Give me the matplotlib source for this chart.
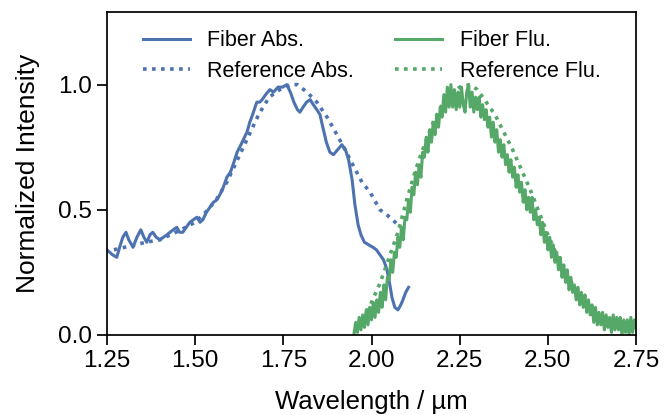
import numpy as np
import matplotlib
matplotlib.use("Agg")
import matplotlib.pyplot as plt

plt.rcParams['font.family'] = ['Liberation Sans', 'DejaVu Sans']
plt.rcParams['font.size'] = 17

# Fiber absorption (measured)
abs_wl = [1.250, 1.258, 1.266, 1.278, 1.286, 1.295, 1.304, 1.312, 1.324, 1.335,
          1.346, 1.355, 1.363, 1.372, 1.380, 1.390, 1.400, 1.410, 1.420, 1.429,
          1.438, 1.448, 1.456, 1.465, 1.475, 1.485, 1.495, 1.505, 1.514, 1.522,
          1.532, 1.542, 1.552, 1.562, 1.570, 1.580, 1.590, 1.600, 1.610, 1.619,
          1.630, 1.640, 1.647, 1.655, 1.663, 1.670, 1.675, 1.683, 1.690, 1.700,
          1.712, 1.722, 1.735, 1.748, 1.760, 1.770, 1.780, 1.790, 1.797, 1.806,
          1.816, 1.826, 1.835, 1.845, 1.854, 1.862, 1.872, 1.882, 1.892, 1.904,
          1.916, 1.926, 1.935, 1.945, 1.953, 1.962, 1.970, 1.980, 1.992, 2.004,
          2.014, 2.024, 2.034, 2.044, 2.052, 2.058, 2.066, 2.075, 2.083, 2.089,
          2.097, 2.105]
abs_val = [0.34, 0.33, 0.32, 0.31, 0.35, 0.39, 0.41, 0.38, 0.35, 0.39,
           0.42, 0.39, 0.37, 0.40, 0.41, 0.39, 0.38, 0.39, 0.40, 0.41,
           0.42, 0.43, 0.41, 0.41, 0.43, 0.45, 0.46, 0.47, 0.45, 0.46,
           0.49, 0.51, 0.53, 0.54, 0.56, 0.59, 0.63, 0.65, 0.69, 0.73,
           0.76, 0.79, 0.81, 0.85, 0.88, 0.91, 0.93, 0.93, 0.94, 0.96,
           0.98, 0.97, 0.99, 0.99, 1.00, 0.97, 0.93, 0.90, 0.89, 0.91,
           0.93, 0.94, 0.92, 0.90, 0.88, 0.83, 0.77, 0.73, 0.72, 0.74,
           0.76, 0.74, 0.70, 0.62, 0.52, 0.44, 0.40, 0.37, 0.36, 0.35,
           0.34, 0.32, 0.30, 0.26, 0.20, 0.15, 0.11, 0.10, 0.12, 0.14,
           0.17, 0.19]

# Reference absorption
ref_abs_wl = [1.27, 1.30, 1.33, 1.36, 1.40, 1.43, 1.46, 1.50, 1.53, 1.56,
              1.59, 1.62, 1.65, 1.68, 1.71, 1.74, 1.77, 1.79, 1.817, 1.845,
              1.874, 1.902, 1.925, 1.947, 1.973, 1.996, 2.024, 2.052, 2.075, 2.10]
ref_abs_val = [0.34, 0.35, 0.36, 0.37, 0.38, 0.40, 0.42, 0.45, 0.49, 0.54,
               0.61, 0.70, 0.79, 0.88, 0.95, 0.98, 1.00, 1.00, 0.97, 0.93,
               0.87, 0.80, 0.74, 0.68, 0.61, 0.57, 0.50, 0.47, 0.44, 0.41]

# Fiber fluorescence (measured), sampled every 5 nm from 1.95 to 2.75 um
flu_wl = np.round(np.arange(1.950, 2.7501, 0.005), 3)
flu_val = [0.00, 0.05, 0.01, 0.07, 0.02, 0.08, 0.03, 0.10, 0.04, 0.11,
           0.06, 0.13, 0.07, 0.14, 0.09, 0.17, 0.11, 0.20, 0.14, 0.23,
           0.22, 0.30, 0.25, 0.33, 0.31, 0.39, 0.35, 0.43, 0.38, 0.47,
           0.46, 0.54, 0.49, 0.59, 0.56, 0.65, 0.60, 0.68, 0.63, 0.73,
           0.71, 0.79, 0.73, 0.82, 0.77, 0.85, 0.80, 0.88, 0.83, 0.91,
           0.87, 0.96, 0.89, 0.99, 0.91, 1.00, 0.91, 0.98, 0.90, 0.97,
           0.91, 0.99, 0.92, 0.89, 0.97, 1.00, 0.91, 0.97, 0.89, 0.95,
           0.90, 0.95, 0.87, 0.92, 0.86, 0.90, 0.83, 0.87, 0.79, 0.85,
           0.77, 0.82, 0.73, 0.78, 0.71, 0.76, 0.68, 0.72, 0.65, 0.70,
           0.63, 0.67, 0.59, 0.64, 0.57, 0.61, 0.53, 0.58, 0.50, 0.55,
           0.49, 0.55, 0.46, 0.50, 0.44, 0.47, 0.40, 0.45, 0.37, 0.41,
           0.34, 0.39, 0.31, 0.36, 0.29, 0.33, 0.26, 0.31, 0.23, 0.28,
           0.21, 0.26, 0.18, 0.23, 0.17, 0.20, 0.14, 0.19, 0.12, 0.17,
           0.11, 0.16, 0.09, 0.14, 0.08, 0.12, 0.05, 0.11, 0.04, 0.09,
           0.04, 0.09, 0.02, 0.08, 0.03, 0.07, 0.01, 0.08, 0.02, 0.07,
           0.02, 0.07, 0.00, 0.06, 0.01, 0.06, 0.00, 0.07, 0.01, 0.06,
           0.03]

# Reference fluorescence
ref_flu_wl = [1.975, 2.000, 2.025, 2.050, 2.075, 2.100, 2.125, 2.150, 2.175, 2.200,
              2.225, 2.250, 2.280, 2.300, 2.325, 2.350, 2.375, 2.400, 2.425, 2.450,
              2.475, 2.500, 2.525, 2.550, 2.575, 2.600, 2.625, 2.650, 2.675, 2.700,
              2.725, 2.750]
ref_flu_val = [0.06, 0.13, 0.21, 0.31, 0.41, 0.54, 0.66, 0.76, 0.85, 0.92,
               0.96, 0.99, 1.00, 0.98, 0.93, 0.88, 0.81, 0.74, 0.66, 0.58,
               0.49, 0.40, 0.32, 0.25, 0.19, 0.14, 0.10, 0.07, 0.05, 0.04,
               0.03, 0.03]

blue = '#4C72B0'
green = '#55A868'
dots = (0, (1, 1.5))

fig = plt.figure(figsize=(6.64, 4.15), dpi=100)
ax = fig.add_axes([0.161, 0.193, 0.797, 0.778])

ax.plot(abs_wl, abs_val, color=blue, lw=2.2, label='Fiber Abs.')
ax.plot(ref_abs_wl, ref_abs_val, color=blue, lw=2.6, linestyle=dots, label='Reference Abs.')
ax.plot(flu_wl, flu_val, color=green, lw=2.2, label='Fiber Flu.')
ax.plot(ref_flu_wl, ref_flu_val, color=green, lw=2.6, linestyle=dots, label='Reference Flu.')

ax.set_xlim(1.25, 2.75)
ax.set_ylim(0, 1.29)
ax.set_xticks([1.25, 1.50, 1.75, 2.00, 2.25, 2.50, 2.75])
ax.set_yticks([0.0, 0.5, 1.0])
ax.set_xlabel('Wavelength / µm', fontsize=18.5, labelpad=13)
ax.set_ylabel('Normalized Intensity', fontsize=19, labelpad=13)
ax.tick_params(direction='out', length=7, width=1.25, labelsize=17.5, pad=4)
for s in ax.spines.values():
    s.set_linewidth(1.25)

ax.legend(ncol=2, loc='upper center', frameon=False, fontsize=15.5,
          handlelength=2.2, handletextpad=0.8, columnspacing=1.9,
          borderaxespad=0.45, labelspacing=0.45, bbox_to_anchor=(0.5, 1.0))

fig.savefig('out.png', dpi=100)
